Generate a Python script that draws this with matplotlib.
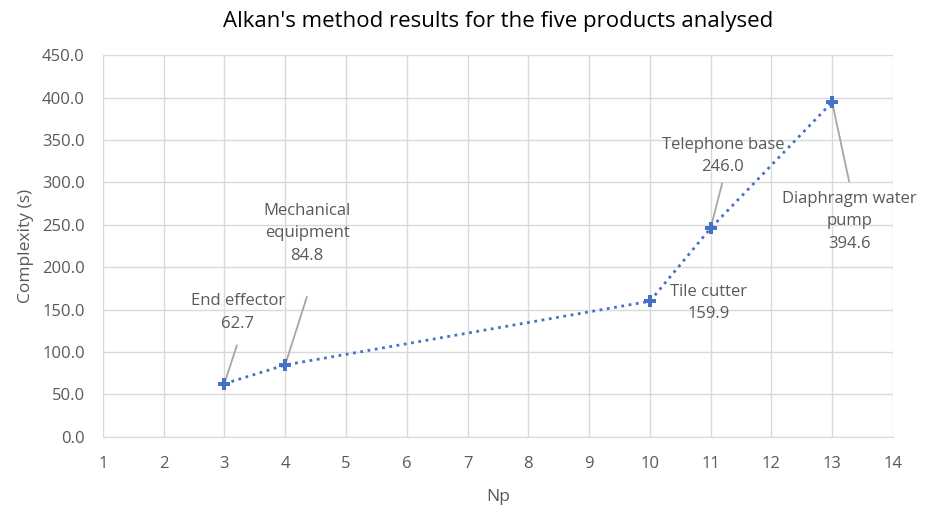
import matplotlib
matplotlib.use("Agg")
import matplotlib.pyplot as plt

plt.rcParams['font.family'] = ['Open Sans', 'DejaVu Sans']

# data
np_values = [3, 4, 10, 11, 13]
complexity = [62.7, 84.8, 159.9, 246.0, 394.6]
names = ["End effector", "Mechanical\nequipment", "Tile cutter",
         "Telephone base", "Diaphragm water\npump"]

# label layout (data coords): text centre, leader start (None = no leader)
label_pos = [(3.22, 147), (4.36, 240), (10.97, 158), (11.2, 331), (13.28, 254)]
leader_start = [(3.205, 108), (4.357, 165), None, (11.19, 299), (13.28, 301)]

blue = "#4472C4"
grey_txt = "#595959"

fig = plt.figure(figsize=(9.35, 5.11), dpi=100)
ax = fig.add_axes([0.110, 0.145, 0.845, 0.747])

ax.plot(np_values, complexity, linestyle=":", linewidth=2, color=blue,
        marker="P", markersize=9, markeredgewidth=0, zorder=3)

for i in range(len(np_values)):
    txt = names[i] + "\n" + "%.1f" % complexity[i]
    ax.text(label_pos[i][0], label_pos[i][1], txt, ha="center", va="center",
            fontsize=12, color=grey_txt, linespacing=1.55, zorder=4)
    if leader_start[i] is not None:
        ax.annotate("", xy=(np_values[i], complexity[i]), xytext=leader_start[i],
                    arrowprops=dict(arrowstyle="-", color="#A6A6A6", lw=1.3,
                                    shrinkA=0, shrinkB=3), zorder=2)

ax.set_xlim(1, 14)
ax.set_ylim(0, 450)
ax.set_xticks(range(1, 15))
ax.set_yticks(range(0, 451, 50))
ax.set_yticklabels(["%.1f" % v for v in range(0, 451, 50)])
ax.grid(True, color="#D9D9D9", linewidth=1)
ax.set_axisbelow(True)
for s in ["top", "right", "left"]:
    ax.spines[s].set_visible(False)
ax.spines["bottom"].set_color("#D9D9D9")
ax.tick_params(length=0, labelsize=12, labelcolor=grey_txt)
ax.tick_params(axis="y", pad=13)
ax.tick_params(axis="x", pad=14)

ax.set_xlabel("Np", fontsize=12.5, color=grey_txt, labelpad=12)
ax.set_ylabel("Complexity (s)", fontsize=12.5, color=grey_txt, labelpad=6)
ax.set_title("Alkan's method results for the five products analysed",
             fontsize=16, color="#000000", pad=20)

fig.savefig("out.png", dpi=100)
